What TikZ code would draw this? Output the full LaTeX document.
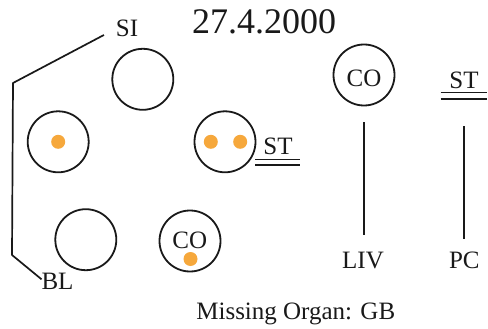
\documentclass[tikz,border=0pt]{standalone}
\usepackage{fontspec}
\setmainfont{Liberation Serif}
\definecolor{dotorange}{RGB}{246,168,60}
\definecolor{ink}{RGB}{25,25,25}
\tikzset{
  organ/.style={circle,draw=ink,line width=1.8pt,minimum size=61pt,inner sep=0pt,outer sep=0pt},
  spot/.style={circle,fill=dotorange,minimum size=14pt,inner sep=0pt,outer sep=0pt},
  lbl/.style={anchor=base,inner sep=0pt,outer sep=0pt,text=ink,font=\fontsize{25}{25}\selectfont},
  conn/.style={draw=ink,line width=1.7pt},
  dbl/.style={draw=ink,line width=1.6pt}
}
\begin{document}
\begin{tikzpicture}[x=1pt,y=-1pt]
\useasboundingbox (0,0) rectangle (488,329);
% title and footer
\node[lbl,font=\fontsize{36}{36}\selectfont] (date) at (264,33.3) {27.4.2000};
\node[lbl] (miss) at (295.8,319.3) {Missing Organ: GB};
% left group of circles
\node[organ] (c1) at (142.8,79.3) {};
\node[organ] (c2) at (58.2,141.8) {};
\node[spot] (d2) at (58.2,141.8) {};
\node[organ] (c3) at (225,141.8) {};
\node[spot] (d3a) at (210.8,141.8) {};
\node[spot] (d3b) at (240.2,141.8) {};
\node[organ] (c4) at (85.8,239.7) {};
\node[organ] (c5) at (190,241) {};
\node[lbl] (co1) at (189.7,248.3) {CO};
\node[spot] (d5) at (190.5,259) {};
% labels
\node[lbl] (si) at (127,36.8) {SI};
\node[lbl] (bl) at (57.5,289.3) {BL};
\node[lbl] (st1) at (278,154) {ST};
\draw[dbl] (255,159.3) -- (300,159.3);
\draw[dbl] (255,164.7) -- (300,164.7);
% bracket
\coordinate (p1) at (13,83);
\coordinate (p2) at (12,255);
\draw[conn,line join=round] ([xshift=-12pt,yshift=1.8pt]si.base west) -- (p1) -- (p2) -- ([yshift=10pt]bl.base west);
% right group
\node[organ] (c6) at (364,75) {};
\node[lbl] (co2) at (364,86.5) {CO};
\node[lbl] (liv) at (363,268) {LIV};
\draw[conn,shorten <=17pt,shorten >=16.5pt] (c6.south) -- (c6.south |- liv.north);
\node[lbl] (st2) at (464,88.3) {ST};
\draw[dbl] (440.7,92.7) -- (486.7,92.7);
\draw[dbl] (440.7,99.3) -- (486.7,99.3);
\node[lbl] (pc) at (464.3,268) {PC};
\draw[conn,shorten <=38.2pt,shorten >=12.2pt] (pc.north |- st2.base) -- (pc.north);
\end{tikzpicture}
\end{document}
